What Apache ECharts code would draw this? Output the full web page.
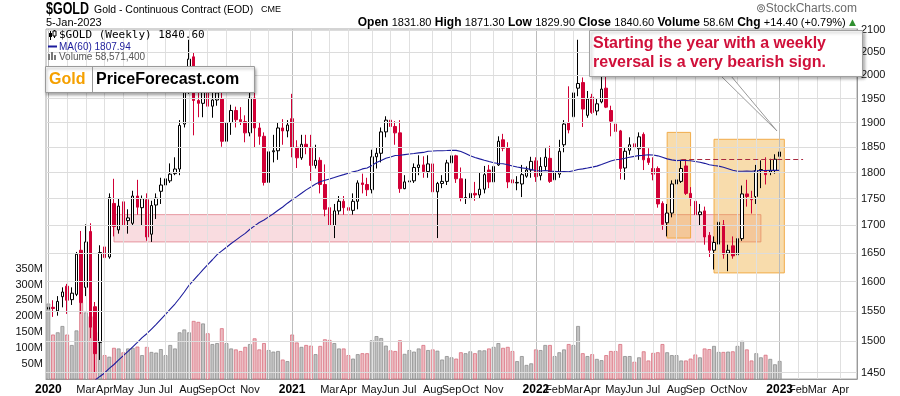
<!DOCTYPE html>
<html><head><meta charset="utf-8">
<script src="https://cdn.jsdelivr.net/npm/echarts@6/dist/echarts.min.js"></script>
<style>html,body{margin:0;padding:0;background:#fff}#c{width:900px;height:396px}</style>
</head><body><div id="c"></div>
<script>
// Weekly bars [open, high, low, close], week ending 2020-01-10 ... 2023-01-06
const ohlc = [
[1553,1593,1537,1556],[1556,1568,1540,1554],[1550,1575,1542,1566],[1574,1590,1556,1582],[1592,1596,1545,1568],
[1569,1590,1560,1580],[1578,1652,1575,1648],[1655,1690,1545,1564],[1590,1702,1575,1670],[1689,1704,1505,1523],
[1557,1565,1450,1480],[1498,1664,1470,1651],[1661,1678,1612,1642],[1643,1760,1640,1752],[1741,1788,1680,1698],
[1692,1750,1685,1736],[1744,1748,1690,1700],[1709,1730,1685,1714],[1704,1765,1700,1755],[1755,1786,1720,1734],
[1733,1756,1700,1750],[1748,1760,1672,1679],[1684,1746,1670,1737],[1738,1760,1712,1751],[1764,1790,1740,1776],
[1776,1800,1762,1788],[1784,1818,1780,1797],[1798,1830,1795,1807],[1807,1905,1795,1894],[1897,1990,1890,1986],
[1986,2078,1960,2035],[2040,2050,1874,1946],[1946,2015,1911,1940],[1940,1985,1911,1965],[1965,2001,1925,1934],
[1934,1966,1910,1947],[1947,1980,1935,1962],[1950,1970,1851,1862],[1862,1917,1848,1900],[1900,1937,1875,1925],
[1925,1933,1890,1906],[1906,1932,1895,1902],[1902,1915,1860,1879],[1879,1965,1872,1951],[1951,1966,1850,1889],
[1889,1900,1855,1872],[1872,1880,1775,1781],[1781,1847,1767,1841],[1841,1875,1820,1843],[1843,1900,1825,1889],
[1889,1907,1855,1883],[1883,1905,1870,1895],
[1908,1960,1830,1850],[1850,1864,1809,1829],[1829,1875,1825,1856],[1856,1875,1836,1850],[1850,1875,1784,1814],
[1814,1855,1808,1824],[1824,1830,1760,1777],[1777,1816,1717,1730],[1733,1740,1687,1700],[1700,1740,1677,1727],
[1727,1755,1720,1745],[1745,1755,1720,1733],[1733,1740,1677,1728],[1728,1760,1720,1745],[1745,1785,1730,1780],
[1780,1798,1760,1777],[1777,1790,1755,1767],[1767,1845,1760,1831],[1831,1850,1808,1838],[1838,1890,1820,1881],
[1881,1913,1870,1905],[1905,1917,1855,1892],[1892,1903,1855,1879],[1879,1905,1761,1769],[1769,1795,1768,1782],
[1782,1790,1750,1784],[1784,1818,1780,1810],[1810,1834,1795,1815],[1815,1832,1790,1802],[1802,1834,1790,1817],
[1817,1832,1758,1763],[1763,1782,1677,1779],[1779,1795,1770,1783],[1783,1825,1776,1819],[1819,1837,1810,1833],
[1833,1835,1780,1788],[1788,1810,1745,1751],[1751,1788,1740,1752],[1750,1765,1721,1760],[1760,1782,1746,1757],
[1757,1800,1750,1768],[1768,1813,1760,1796],[1805,1815,1770,1782],[1782,1818,1758,1812],[1815,1872,1813,1862],
[1865,1877,1842,1848],[1849,1860,1770,1782],[1786,1795,1762,1780],[1780,1793,1766,1781],[1778,1815,1753,1796],
[1793,1812,1790,1805],[1805,1831,1790,1822],
[1823,1830,1782,1792],[1794,1830,1785,1812],[1812,1848,1805,1830],[1828,1853,1780,1783],[1786,1810,1781,1802],
[1797,1865,1790,1842],[1855,1905,1840,1897],[1900,1976,1878,1885],[1912,1970,1890,1962],[1972,2078,1955,1982],
[1984,1995,1891,1928],[1915,1966,1910,1949],[1953,1960,1918,1921],[1924,1950,1915,1939],[1943,1998,1940,1970],
[1972,1998,1930,1932],[1925,1935,1872,1903],[1897,1910,1850,1882],[1883,1885,1787,1808],[1809,1850,1786,1842],
[1844,1870,1835,1855],[1857,1875,1828,1850],[1847,1880,1825,1871],[1876,1880,1805,1825],[1828,1848,1815,1820],
[1808,1830,1785,1797],[1808,1812,1733,1740],[1741,1745,1692,1702],[1705,1740,1680,1723],[1723,1785,1715,1778],
[1778,1795,1754,1786],[1783,1825,1780,1808],[1813,1825,1757,1760],[1760,1772,1736,1750],[1745,1752,1707,1720],
[1720,1740,1700,1725],[1727,1735,1665,1679],[1682,1688,1643,1655],[1655,1680,1621,1669],[1666,1730,1660,1706],
[1701,1710,1640,1648],[1650,1665,1618,1655],[1663,1680,1640,1645],[1647,1680,1618,1676],[1676,1775,1672,1759],
[1759,1786,1735,1754],[1751,1765,1722,1748],[1754,1815,1740,1804],[1804,1824,1770,1806],[1804,1830,1777,1796],
[1801,1827,1795,1804],[1804,1836,1798,1826.2],[1831.8,1871.3,1829.9,1840.6]
];
// Weekly volume, millions of contracts
const volumeM = [
240,142,149,169,142,109,155,244,212,200,
150,130,77,72,100,98,86,98,100,104,
77,103,87,85,96,77,109,98,149,158,
149,185,182,177,146,112,115,162,115,98,
95,90,103,112,130,95,115,93,88,90,
63,58,142,117,103,109,107,80,106,127,
125,115,98,98,77,66,80,83,83,124,
137,131,107,92,90,124,81,93,88,98,
109,93,95,91,63,74,70,66,86,83,
89,83,92,92,98,103,115,100,103,90,
58,74,46,51,95,93,109,109,74,86,
95,112,109,169,83,74,80,65,61,77,
90,90,112,74,74,56,70,89,60,84,
86,112,86,77,77,60,60,66,79,70,
98,96,106,87,87,88,89,106,122,95,
60,83,70,78,65,48,58.57
];
// Weekly closes before the chart window (Feb 2019 - 3 Jan 2020), used for MA(60)
const priorCloses = [1318,1316,1322,1329,1299,1298,1302,1313,1298,1295,1295,1276,1288,1281,1287,1276,1285,1311,1346,1344,
1400,1414,1400,1412,1427,1419,1457,1509,1523,1537,1529,1515,1506,1516,1497,1507,1492,1494,1505,1514,
1462,1468,1463,1473,1465,1481,1481,1519,1552];
const priceTicks = [1450,1500,1550,1600,1650,1700,1750,1800,1850,1900,1950,2000,2050,2100];
const monthNames = ['Jan','Feb','Mar','Apr','May','Jun','Jul','Aug','Sep','Oct','Nov','Dec'];
const hiddenMonthLabels = ['2020-02','2020-12','2021-02','2021-12','2022-12'];
const emptyWeeksAfter = 16;
const maPeriod = 60;
// annotations (week index, price)
const supportBand = {from: 14, to: 152, top: 1720, bottom: 1670};
const boxes = [{from: 132, to: 137, top: 1880, bottom: 1677},{from: 142, to: 157, top: 1866, bottom: 1615}];
const dashedLevel = {from: 135, to: 161, price: 1826};

// categories: weekly dates (last trading day of the week)
const categories = [];
const t0 = Date.UTC(2020,0,10);
for (let i=0;i<ohlc.length+emptyWeeksAfter;i++){
  let d = new Date(t0 + i*7*864e5);
  if (d.getUTCMonth()===0 && d.getUTCDate()===1) d = new Date(d.getTime()-864e5);
  categories.push(d.toISOString().slice(0,10));
}
const monthStart = {};
categories.forEach((c,i)=>{ if(i===0 || c.slice(0,7)!==categories[i-1].slice(0,7)) monthStart[i]=c; });
function labelFor(i){
  const c = categories[i]; if (!(i in monthStart)) return null;
  if (hiddenMonthLabels.indexOf(c.slice(0,7))>=0) return null;
  const m = +c.slice(5,7)-1;
  return m===0 ? '{y|'+c.slice(0,4)+'}' : monthNames[m];
}
const closes = ohlc.map(r=>r[3]);
const allCloses = priorCloses.concat(closes);
const ma = closes.map((c,i)=>{
  const end = priorCloses.length+i, start = end-maPeriod+1;
  if (start<0) return '-';
  let s=0; for(let k=start;k<=end;k++) s+=allCloses[k];
  return +(s/maPeriod).toFixed(2);
});
const candleData = ohlc.map(r=>[r[0],r[3],r[2],r[1]]);
const volData = volumeM.map((v,i)=>{
  const prev = i===0 ? priorCloses[priorCloses.length-1] : closes[i-1];
  const down = closes[i] < prev;
  return {value:v, itemStyle: down ? {color:'rgba(226,150,160,0.65)', borderColor:'#d9707f'} : {color:'#c3c3c3', borderColor:'#8e8e8e'}};
});

const FONT = '"Liberation Sans", Arial, sans-serif';
const chart = echarts.init(document.getElementById('c'), null, {renderer:'canvas'});
const option = {
  animation:false,
  backgroundColor:'#fff',
  grid:[
    {left:46,right:43,top:29,bottom:16.5,show:true,borderColor:'#a8a8a8',borderWidth:1,backgroundColor:'transparent'},
    {left:46,right:43,top:268.7,bottom:16.5}
  ],
  xAxis:[
    {type:'category',gridIndex:0,data:categories,boundaryGap:true,
     axisLine:{show:true,lineStyle:{color:'#999'}},axisTick:{show:false},splitLine:{show:false},
     axisLabel:{interval:(i)=>labelFor(i)!==null,formatter:(v,i)=>labelFor(i)||'',
       fontSize:11,color:'#111',fontFamily:FONT,margin:5,
       rich:{y:{fontWeight:'bold',fontSize:12,color:'#000',fontFamily:FONT}}}},
    {type:'category',gridIndex:1,data:categories,boundaryGap:true,show:false}
  ],
  yAxis:[
    {type:'log',gridIndex:0,min:1440,max:2102.3,position:'right',
     axisLine:{show:true,lineStyle:{color:'#999'}},axisTick:{show:false},axisLabel:{show:false},splitLine:{show:false}},
    {type:'value',gridIndex:1,min:0,max:350,interval:50,position:'left',
     axisLine:{show:false},axisTick:{show:false},splitLine:{show:false},
     axisLabel:{formatter:v=>v?v+'M':'',fontSize:11,color:'#111',fontFamily:FONT,margin:3}}
  ],
  series:[
    {type:'line',xAxisIndex:0,yAxisIndex:0,data:[],z:0,silent:true,
     markLine:{silent:true,symbol:['none','none'],animation:false,
       label:{show:false},
       data:Object.keys(monthStart).map(i=>{
         const c = monthStart[i]; const yr = c.slice(5,7)==='01';
         return {xAxis:c,lineStyle:{color:yr?'#bcbcbc':'#e0e0e0',width:1,type:'solid'}};
       })}},
    {type:'line',xAxisIndex:0,yAxisIndex:0,data:[],z:0,silent:true,
     markLine:{silent:true,symbol:['none','none'],animation:false,
       lineStyle:{color:'#dcdcdc',width:1,type:'solid'},
       label:{show:true,position:'end',formatter:p=>String(p.value),color:'#111',fontSize:11,fontFamily:FONT,distance:4},
       data:priceTicks.map(v=>({yAxis:v}))}},
    {type:'line',xAxisIndex:0,yAxisIndex:0,data:[],z:1,silent:true,
     markArea:{silent:true,itemStyle:{color:'rgba(228,110,125,0.24)',borderColor:'rgba(222,120,132,0.75)',borderWidth:1},
       data:[[{xAxis:categories[supportBand.from],yAxis:supportBand.top},{xAxis:categories[supportBand.to],yAxis:supportBand.bottom}]]}},
    {type:'bar',name:'Volume',xAxisIndex:1,yAxisIndex:1,data:volData,barWidth:'82%',z:1,silent:true,
     itemStyle:{borderWidth:0.8}},
    {type:'candlestick',name:'$GOLD',xAxisIndex:0,yAxisIndex:0,data:candleData,barWidth:3,z:3,silent:true,
     itemStyle:{color:'#ffffff',color0:'#d10036',borderColor:'#000000',borderColor0:'#d10036',borderColorDoji:'#000',borderWidth:1}},
    {type:'line',name:'MA(60)',xAxisIndex:0,yAxisIndex:0,data:ma,showSymbol:false,z:4,silent:true,
     lineStyle:{color:'#1c1c9c',width:1.1}},
    {type:'line',xAxisIndex:0,yAxisIndex:0,data:[],z:5,silent:true,
     markArea:{silent:true,itemStyle:{color:'rgba(238,168,48,0.40)',borderColor:'rgba(240,165,60,0.9)',borderWidth:1},
       data:boxes.map(b=>[{xAxis:categories[b.from],yAxis:b.top},{xAxis:categories[b.to],yAxis:b.bottom}])},
     markLine:{silent:true,symbol:['none','none'],label:{show:false},
       lineStyle:{color:'#a8283e',width:1,type:[5,3]},
       data:[[{xAxis:categories[dashedLevel.from],yAxis:dashedLevel.price},{xAxis:categories[dashedLevel.to],yAxis:dashedLevel.price}]]}}
  ],
  graphic:[
    {type:'text',x:46,y:9.5,scaleX:0.78,z:100,style:{text:'$GOLD',font:'bold 16px '+FONT,fill:'#000',verticalAlign:'middle'}},
    {type:'text',x:94,y:9.5,scaleX:0.95,z:100,style:{text:'Gold - Continuous Contract (EOD)',font:'11px '+FONT,fill:'#000',verticalAlign:'middle'}},
    {type:'text',x:261,y:10,z:100,style:{text:'CME',font:'9px '+FONT,fill:'#000',verticalAlign:'middle'}},
    {type:'text',x:46,y:22.5,z:100,style:{text:'5-Jan-2023',font:'11px '+FONT,fill:'#000',verticalAlign:'middle'}},
    {type:'text',x:856,y:22.5,z:100,style:{
      text:'{b|Open} {v|1831.80} {b|High} {v|1871.30} {b|Low} {v|1829.90} {b|Close} {v|1840.60} {b|Volume} {v|58.6M} {b|Chg} {v|+14.40 (+0.79%)} {g|▲}',
      align:'right',verticalAlign:'middle',
      rich:{b:{fontWeight:'bold',fontSize:12,fontFamily:FONT,fill:'#000'},v:{fontSize:11,fontFamily:FONT,fill:'#000'},g:{fontSize:9,fontFamily:'"DejaVu Sans"',fill:'#2f8f2f'}}}},
    {type:'text',x:857,y:9,z:100,style:{text:'⊚StockCharts.com',font:'12px '+FONT,fill:'#6a6a6a',align:'right',verticalAlign:'middle'}},
    // legend
    {type:'line',z:100,shape:{x1:50.5,y1:31,x2:50.5,y2:40},style:{stroke:'#000',lineWidth:1}},
    {type:'rect',z:100,shape:{x:49,y:33,width:3,height:4},style:{fill:'#000'}},
    {type:'line',z:100,shape:{x1:54.5,y1:30,x2:54.5,y2:38},style:{stroke:'#000',lineWidth:1}},
    {type:'rect',z:100,shape:{x:53,y:31,width:3,height:5},style:{fill:'#fff',stroke:'#000',lineWidth:1}},
    {type:'text',x:59,y:35.5,z:100,style:{text:'$GOLD (Weekly) 1840.60',font:'11px "DejaVu Sans Mono", monospace',fill:'#000',verticalAlign:'middle'}},
    {type:'line',z:100,shape:{x1:48,y1:46.5,x2:57,y2:46.5},style:{stroke:'#1c1c9c',lineWidth:2}},
    {type:'text',x:59,y:47,z:100,style:{text:'MA(60) 1807.94',font:'10px '+FONT,fill:'#1c1c9c',verticalAlign:'middle'}},
    {type:'rect',z:100,shape:{x:48,y:54,width:2,height:6},style:{fill:'#777'}},
    {type:'rect',z:100,shape:{x:51,y:52,width:2,height:8},style:{fill:'#777'}},
    {type:'rect',z:100,shape:{x:54,y:55,width:2,height:5},style:{fill:'#777'}},
    {type:'text',x:59,y:57,z:100,style:{text:'Volume 58,571,400',font:'10px '+FONT,fill:'#555',verticalAlign:'middle'}},
    // logo box
    {type:'rect',z:100,shape:{x:45.5,y:66.5,width:209,height:26},style:{fill:'#fff',stroke:'#9a9a9a',lineWidth:1,shadowBlur:3,shadowColor:'rgba(0,0,0,0.35)',shadowOffsetX:1,shadowOffsetY:2}},
    {type:'line',z:101,shape:{x1:92.5,y1:66.5,x2:92.5,y2:92.5},style:{stroke:'#9a9a9a',lineWidth:1}},
    {type:'text',x:49,y:80,z:101,style:{text:'Gold',font:'bold 16px '+FONT,fill:'#f5a000',verticalAlign:'middle'}},
    {type:'text',x:96,y:80,z:101,style:{text:'PriceForecast.com',font:'bold 16px '+FONT,fill:'#000',verticalAlign:'middle'}},
    // callout
    {type:'polygon',z:99,shape:{points:[[721,76],[777,131],[731,76]]},style:{fill:'#fff',stroke:'#9a9a9a',lineWidth:1}},
    {type:'rect',z:100,shape:{x:589.5,y:30.5,width:273,height:46},style:{fill:'#fff',stroke:'#a0a0a0',lineWidth:1,shadowBlur:3,shadowColor:'rgba(0,0,0,0.3)',shadowOffsetX:2,shadowOffsetY:2}},
    {type:'text',x:593,y:34,z:101,style:{text:'Starting the year with a weekly\nreversal is a very bearish sign.',font:'bold 16px '+FONT,fill:'#d0103a',lineHeight:19}}
  ]
};
chart.setOption(option);
</script>
</body></html>
